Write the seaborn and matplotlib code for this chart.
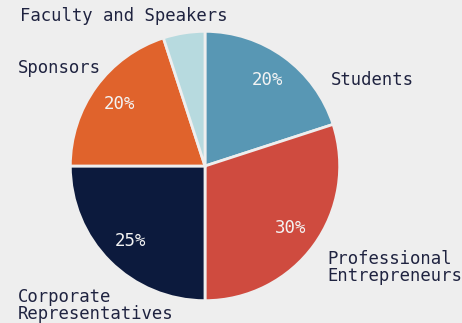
import matplotlib
matplotlib.use("Agg")
import matplotlib.pyplot as plt
import numpy as np
import seaborn as sns

# Attendee breakdown (percent of total)
categories = ["Students", "Professional\nEntrepreneurs", "Corporate\nRepresentatives",
              "Sponsors", "Faculty and Speakers"]
shares = [20, 30, 25, 20, 5]
colors = ["#5897b4", "#cf4b3f", "#0c1a3d", "#e0632c", "#b7dadf"]

# Where each category name sits (pie radius = 1)
label_x = [0.94, 0.91, -1.40, -1.40, -1.38]
label_y = [0.64, -0.76, -1.04, 0.73, 1.12]

bg = "#eeeeee"
ink = "#1f2340"

sns.set_theme(style="white")
plt.rcParams["font.family"] = ["DejaVu Sans Mono", "DejaVu Sans"]

fig = plt.figure(figsize=(4.62, 3.23), dpi=100, facecolor=bg)
ax = fig.add_axes([0, 0, 1, 1])
ax.set_facecolor(bg)

palette = sns.color_palette(colors)
wedges = ax.pie(
    shares,
    colors=palette,
    startangle=90,
    counterclock=False,
    radius=1.005,
    wedgeprops=dict(edgecolor=bg, linewidth=2),
)[0]

# Percent labels inside the larger slices
for w, v in zip(wedges, shares):
    if v < 10:
        continue
    ang = np.deg2rad((w.theta1 + w.theta2) / 2)
    r = 0.79
    ax.text(r * np.cos(ang), r * np.sin(ang), f"{v}%", ha="center", va="center",
            color="#f3f3f3", fontsize=12.5)

for name, x, y in zip(categories, label_x, label_y):
    ax.text(x, y, name, ha="left", va="center", color=ink, fontsize=12.4,
            linespacing=0.95)

ax.set_xlim(-205 / 134, (462 - 205) / 134)
ax.set_ylim((166 - 323) / 134, 166 / 134)
ax.set_aspect("equal")
ax.axis("off")

fig.savefig("out.png", dpi=100, facecolor=bg)
